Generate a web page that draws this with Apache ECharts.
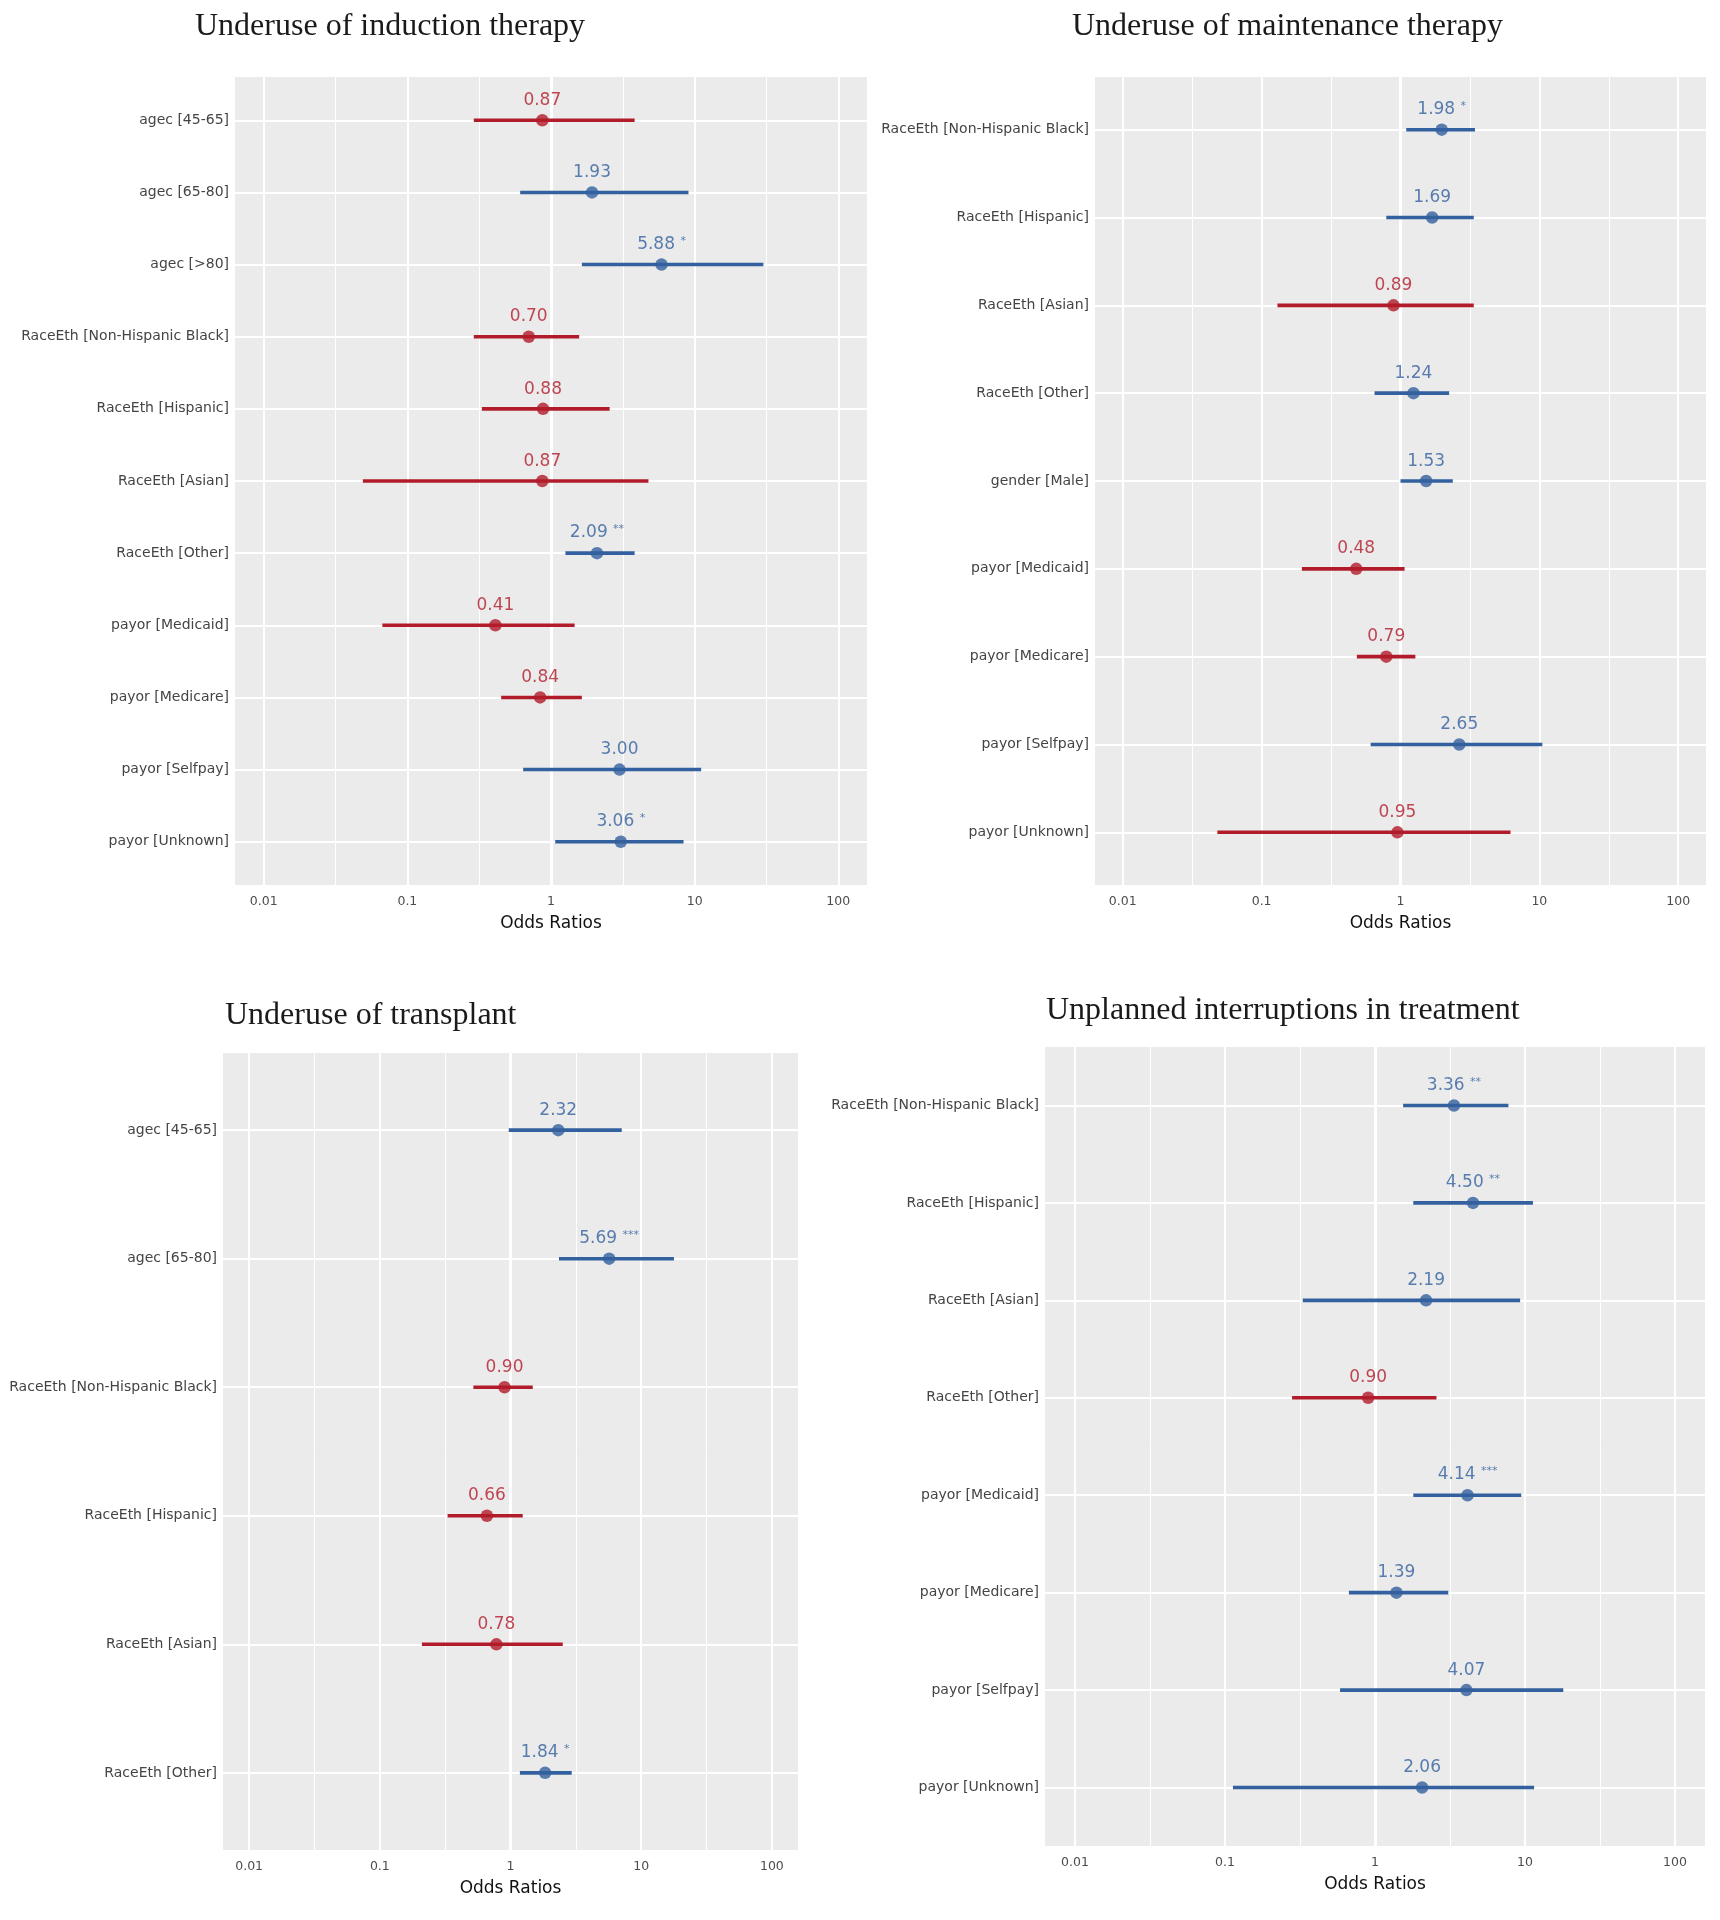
<!DOCTYPE html>
<html><head><meta charset="utf-8">
<script src="https://cdn.jsdelivr.net/npm/echarts@6/dist/echarts.min.js"></script>
<style>html,body{margin:0;padding:0;background:#fff}#c{width:1720px;height:1920px}</style>
</head><body><div id="c"></div>
<script>
// ---- axis ticks (log10 positions and their labels) ----
const tickValues = [-2, -1, 0, 1, 2];
const tickLabels = ['0.01', '0.1', '1', '10', '100'];
const minorValues = [-1.5, -0.5, 0.5, 1.5];

// ---- Panel 1: Underuse of induction therapy ----
const p1Title = 'Underuse of induction therapy';
const p1Cats = ['agec [45-65]', 'agec [65-80]', 'agec [>80]', 'RaceEth [Non-Hispanic Black]', 'RaceEth [Hispanic]', 'RaceEth [Asian]', 'RaceEth [Other]', 'payor [Medicaid]', 'payor [Medicare]', 'payor [Selfpay]', 'payor [Unknown]'];
const p1OR = [0.87, 1.93, 5.88, 0.70, 0.88, 0.87, 2.09, 0.41, 0.84, 3.00, 3.06];
const p1Lo = [0.29, 0.61, 1.64, 0.29, 0.33, 0.049, 1.26, 0.067, 0.45, 0.64, 1.07];
const p1Hi = [3.82, 9.06, 30.1, 1.57, 2.56, 4.77, 3.82, 1.46, 1.64, 11.1, 8.37];
const p1Stars = ['', '', '*', '', '', '', '**', '', '', '', '*'];

// ---- Panel 2: Underuse of maintenance therapy ----
const p2Title = 'Underuse of maintenance therapy';
const p2Cats = ['RaceEth [Non-Hispanic Black]', 'RaceEth [Hispanic]', 'RaceEth [Asian]', 'RaceEth [Other]', 'gender [Male]', 'payor [Medicaid]', 'payor [Medicare]', 'payor [Selfpay]', 'payor [Unknown]'];
const p2OR = [1.98, 1.69, 0.89, 1.24, 1.53, 0.48, 0.79, 2.65, 0.95];
const p2Lo = [1.10, 0.79, 0.13, 0.65, 1.00, 0.195, 0.485, 0.61, 0.048];
const p2Hi = [3.44, 3.37, 3.37, 2.24, 2.38, 1.07, 1.28, 10.5, 6.2];
const p2Stars = ['*', '', '', '', '', '', '', '', ''];

// ---- Panel 3: Underuse of transplant ----
const p3Title = 'Underuse of transplant';
const p3Cats = ['agec [45-65]', 'agec [65-80]', 'RaceEth [Non-Hispanic Black]', 'RaceEth [Hispanic]', 'RaceEth [Asian]', 'RaceEth [Other]'];
const p3OR = [2.32, 5.69, 0.90, 0.66, 0.78, 1.84];
const p3Lo = [0.97, 2.35, 0.52, 0.33, 0.21, 1.18];
const p3Hi = [7.1, 17.8, 1.48, 1.24, 2.51, 2.94];
const p3Stars = ['', '***', '', '', '', '*'];

// ---- Panel 4: Unplanned interruptions in treatment ----
const p4Title = 'Unplanned interruptions in treatment';
const p4Cats = ['RaceEth [Non-Hispanic Black]', 'RaceEth [Hispanic]', 'RaceEth [Asian]', 'RaceEth [Other]', 'payor [Medicaid]', 'payor [Medicare]', 'payor [Selfpay]', 'payor [Unknown]'];
const p4OR = [3.36, 4.50, 2.19, 0.90, 4.14, 1.39, 4.07, 2.06];
const p4Lo = [1.54, 1.80, 0.33, 0.28, 1.80, 0.67, 0.585, 0.113];
const p4Hi = [7.75, 11.3, 9.28, 2.57, 9.44, 3.08, 18.0, 11.5];
const p4Stars = ['**', '**', '', '', '***', '', '', ''];

const BLUE = '#33609e';
const RED = '#b21c2a';
const LABEL_FONT = 'DejaVu Sans';

const panels = [
  {title: p1Title, cats: p1Cats, or: p1OR, lo: p1Lo, hi: p1Hi, stars: p1Stars,
   grid: {left: 235, top: 77, width: 632, height: 808}, tpos: {left: 190, top: 6}},
  {title: p2Title, cats: p2Cats, or: p2OR, lo: p2Lo, hi: p2Hi, stars: p2Stars,
   grid: {left: 1095, top: 77, width: 611, height: 808}, tpos: {left: 1067, top: 6}},
  {title: p3Title, cats: p3Cats, or: p3OR, lo: p3Lo, hi: p3Hi, stars: p3Stars,
   grid: {left: 223, top: 1053, width: 575, height: 797}, tpos: {left: 220, top: 995}},
  {title: p4Title, cats: p4Cats, or: p4OR, lo: p4Lo, hi: p4Hi, stars: p4Stars,
   grid: {left: 1045, top: 1047, width: 660, height: 799}, tpos: {left: 1041, top: 990}}
];

const option = {animation: false, title: [], grid: [], xAxis: [], yAxis: [], series: []};

panels.forEach(function (p, i) {
  const n = p.cats.length;
  const colors = p.or.map(function (v) { return v >= 1 ? BLUE : RED; });
  const idx = p.cats.map(function (c, k) { return k; });
  option.title.push({
    text: p.title, left: p.tpos.left, top: p.tpos.top,
    textStyle: {fontFamily: 'Liberation Serif', fontSize: 32, fontWeight: 'normal', color: '#1a1a1a'}
  });
  option.grid.push(Object.assign({show: true, backgroundColor: '#ebebeb', borderWidth: 0, containLabel: false}, p.grid));
  option.xAxis.push({
    type: 'value', gridIndex: i, min: -2.2, max: 2.2,
    axisLine: {show: false}, splitLine: {show: false},
    axisTick: {show: true, customValues: tickValues, length: 4, lineStyle: {color: '#333', width: 1}},
    axisLabel: {customValues: tickValues, margin: 10, fontFamily: LABEL_FONT, fontSize: 12.5, color: '#4d4d4d',
      formatter: function (v) { const k = tickValues.indexOf(Math.round(v)); return k >= 0 ? tickLabels[k] : ''; }},
    name: 'Odds Ratios', nameLocation: 'middle', nameGap: 30,
    nameTextStyle: {fontFamily: LABEL_FONT, fontSize: 17, color: '#111'}
  });
  option.yAxis.push({
    type: 'value', gridIndex: i, inverse: true, min: -0.6, max: n - 0.4,
    axisLine: {show: false}, splitLine: {show: false},
    axisTick: {show: true, customValues: idx, length: 4, lineStyle: {color: '#333', width: 1}},
    axisLabel: {customValues: idx, margin: 6, fontFamily: LABEL_FONT, fontSize: 14, color: '#444',
      formatter: function (v) { return p.cats[Math.round(v)] || ''; }}
  });
  // grid lines (white, ggplot-like), drawn beneath the marks
  const gl = [];
  tickValues.forEach(function (v) { gl.push({xAxis: v, lineStyle: {width: v === 0 ? 3 : 2}}); });
  minorValues.forEach(function (v) { gl.push({xAxis: v, lineStyle: {width: 1}}); });
  idx.forEach(function (k) { gl.push({yAxis: k, lineStyle: {width: 2}}); });
  option.series.push({
    type: 'line', xAxisIndex: i, yAxisIndex: i, data: [], silent: true, z: 1,
    markLine: {silent: true, animation: false, z: 1, symbol: ['none', 'none'], label: {show: false},
      lineStyle: {color: '#ffffff', type: 'solid', width: 1, opacity: 1}, emphasis: {disabled: true}, data: gl}
  });
  // error bars
  option.series.push({
    type: 'custom', xAxisIndex: i, yAxisIndex: i, z: 6, silent: true,
    encode: {x: [0, 1], y: 2},
    data: idx.map(function (k) { return [Math.log10(p.lo[k]), Math.log10(p.hi[k]), k]; }),
    renderItem: function (params, api) {
      const a = api.coord([api.value(0), api.value(2)]);
      const b = api.coord([api.value(1), api.value(2)]);
      return {type: 'line', shape: {x1: a[0], y1: a[1], x2: b[0], y2: b[1]},
        style: {stroke: colors[params.dataIndex], lineWidth: 3.6, lineCap: 'butt'}};
    }
  });
  // points with labels
  option.series.push({
    type: 'scatter', xAxisIndex: i, yAxisIndex: i, z: 7, silent: true, symbol: 'circle', symbolSize: 12.5,
    data: idx.map(function (k) {
      return {value: [Math.log10(p.or[k]), k], itemStyle: {color: colors[k]},
        label: {color: colors[k], rich: {v: {color: colors[k], fontSize: 17, fontFamily: LABEL_FONT},
          s: {color: colors[k], fontSize: 11, fontFamily: LABEL_FONT, verticalAlign: 'top', padding: [0, 0, 7, 0]}}}};
    }),
    label: {show: true, position: 'top', distance: 5,
      formatter: function (prm) {
        const k = prm.dataIndex;
        const t = '{v|' + p.or[k].toFixed(2) + '}';
        return p.stars[k] ? t + '{v| }{s|' + p.stars[k] + '}' : t;
      }},
    emphasis: {disabled: true}
  });
});

const chart = echarts.init(document.getElementById('c'), null, {renderer: 'canvas'});
chart.setOption(option);
</script>
</body></html>
